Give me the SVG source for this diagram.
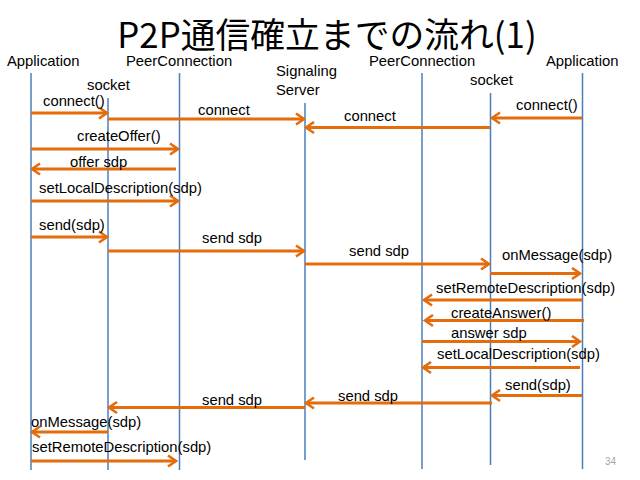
<svg xmlns="http://www.w3.org/2000/svg" width="640" height="480" viewBox="0 0 640 480">
<style>
.t{font-family:"Liberation Sans",Arial,sans-serif;font-size:14.8px;fill:#000}
.life{stroke:#4A7EBB;stroke-width:1.5;fill:none}
.msg{stroke:#E46C0A;stroke-width:3;fill:none;marker-end:url(#ah)}
</style>
<defs>
<marker id="ah" markerWidth="14" markerHeight="14" refX="10" refY="7" orient="auto" markerUnits="userSpaceOnUse">
<path d="M2,1.5 L10,7 L2,12.5" fill="none" stroke="#E46C0A" stroke-width="2.6"/>
</marker>
</defs>
<rect width="640" height="480" fill="#fff"/>
<text x="327" y="48" text-anchor="middle" style="font-family:'Noto Sans CJK JP','Noto Sans',sans-serif;font-size:34.8px;fill:#000">P2P通信確立までの流れ(1)</text>

<g id="appL"><text class="t" x="7" y="66">Application</text><line class="life" x1="31" y1="73" x2="31" y2="470"/></g>
<g id="sockL"><text class="t" x="87" y="90">socket</text><line class="life" x1="108" y1="98" x2="108" y2="470"/></g>
<g id="pcL"><text class="t" x="126" y="66">PeerConnection</text><line class="life" x1="179.5" y1="73" x2="179.5" y2="470"/></g>
<g id="sig"><text class="t" x="276" y="76">Signaling</text><text class="t" x="276" y="95">Server</text><line class="life" x1="305" y1="103" x2="305" y2="460"/></g>
<g id="pcR"><text class="t" x="369" y="66">PeerConnection</text><line class="life" x1="422" y1="73" x2="422" y2="469"/></g>
<g id="sockR"><text class="t" x="470" y="85">socket</text><line class="life" x1="490.5" y1="93" x2="490.5" y2="465"/></g>
<g id="appR"><text class="t" x="546" y="66">Application</text><line class="life" x1="582.5" y1="73" x2="582.5" y2="469"/></g>

<g id="connectors">
<line class="msg" x1="31" y1="113" x2="107" y2="113"/>
<line class="msg" x1="108" y1="119" x2="304" y2="119"/>
<line class="msg" x1="490" y1="127.5" x2="306" y2="127.5"/>
<line class="msg" x1="582" y1="118" x2="492" y2="118"/>
<line class="msg" x1="31" y1="149" x2="178" y2="149"/>
<line class="msg" x1="176" y1="169" x2="32" y2="169"/>
<line class="msg" x1="31" y1="201" x2="178" y2="201"/>
<line class="msg" x1="31" y1="237" x2="107" y2="237"/>
<line class="msg" x1="108" y1="251" x2="304" y2="251"/>
<line class="msg" x1="305" y1="264" x2="489" y2="264"/>
<line class="msg" x1="490" y1="273.5" x2="580" y2="273.5"/>
<line class="msg" x1="582" y1="300" x2="424" y2="300"/>
<line class="msg" x1="584" y1="320.5" x2="425" y2="320.5"/>
<line class="msg" x1="422" y1="341.5" x2="580" y2="341.5"/>
<line class="msg" x1="580" y1="367.5" x2="423" y2="367.5"/>
<line class="msg" x1="582" y1="395.5" x2="492" y2="395.5"/>
<line class="msg" x1="492" y1="403" x2="306" y2="403"/>
<line class="msg" x1="305" y1="407.5" x2="109" y2="407.5"/>
<line class="msg" x1="108" y1="432" x2="32" y2="432"/>
<line class="msg" x1="31" y1="461" x2="176" y2="461"/>
</g>

<g id="labels">
<text class="t" x="43" y="106">connect()</text>
<text class="t" x="198" y="115">connect</text>
<text class="t" x="344" y="120.5">connect</text>
<text class="t" x="516" y="110">connect()</text>
<text class="t" x="77" y="141">createOffer()</text>
<text class="t" x="70" y="167">offer sdp</text>
<text class="t" x="39" y="193">setLocalDescription(sdp)</text>
<text class="t" x="39" y="230">send(sdp)</text>
<text class="t" x="202" y="243">send sdp</text>
<text class="t" x="349" y="256">send sdp</text>
<text class="t" x="502" y="260">onMessage(sdp)</text>
<text class="t" x="436" y="293">setRemoteDescription(sdp)</text>
<text class="t" x="451" y="317.5">createAnswer()</text>
<text class="t" x="451" y="338">answer sdp</text>
<text class="t" x="437" y="359">setLocalDescription(sdp)</text>
<text class="t" x="505" y="390">send(sdp)</text>
<text class="t" x="338" y="400.5">send sdp</text>
<text class="t" x="202" y="405">send sdp</text>
<text class="t" x="31" y="426.5">onMessage(sdp)</text>
<text class="t" x="32" y="451.5">setRemoteDescription(sdp)</text>
</g>
<text x="605" y="465" style="font-family:'Liberation Sans',Arial,sans-serif;font-size:10px;fill:#A6A6A6">34</text>
</svg>
